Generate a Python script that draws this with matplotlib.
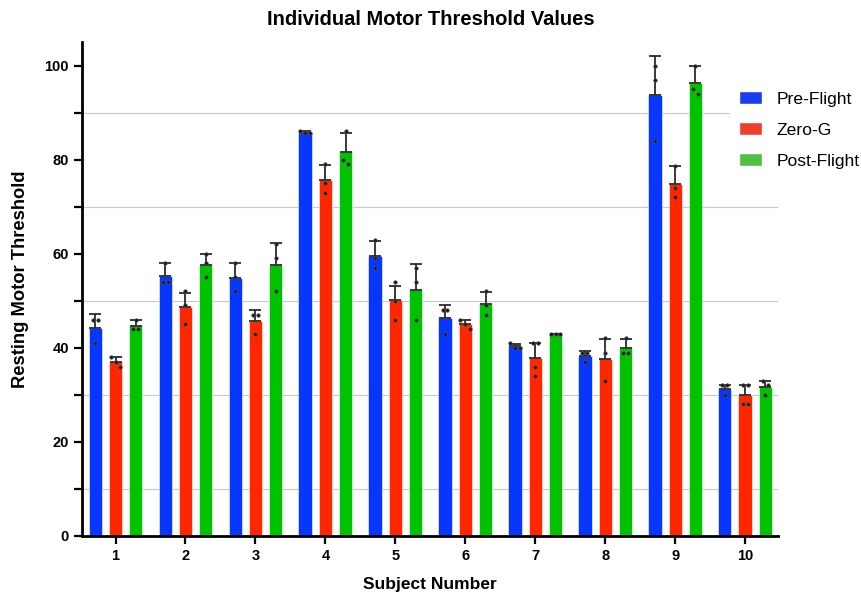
import numpy as np
import matplotlib.pyplot as plt
from matplotlib.patches import Patch

plt.rcParams['font.family'] = ['Liberation Sans', 'DejaVu Sans']

subjects = ["1", "2", "3", "4", "5", "6", "7", "8", "9", "10"]
conditions = ["Pre-Flight", "Zero-G", "Post-Flight"]

# bar heights (mean)
pre_mean = [44.3, 55.3, 54.9, 85.6, 59.6, 46.3, 40.3, 38.3, 93.7, 31.2]
zero_mean = [36.9, 48.7, 45.6, 75.7, 50.1, 45.0, 37.9, 37.6, 74.9, 30.0]
post_mean = [44.6, 57.6, 57.5, 81.6, 52.3, 49.3, 43.0, 39.9, 96.3, 31.6]

# top of the error bars (mean + SD)
pre_top = [47.2, 58.0, 58.0, 86.0, 62.8, 49.2, 40.9, 39.3, 102.1, 32.2]
zero_top = [38.0, 51.7, 48.0, 78.9, 53.1, 45.9, 41.0, 41.8, 78.7, 32.0]
post_top = [45.9, 60.0, 62.2, 85.7, 57.9, 51.9, 43.0, 41.8, 99.9, 33.0]

# individual measurements
pre_pts = [[46, 46, 41], [58, 54, 54], [58, 55, 52], [86, 85.6, 85.6],
           [63, 59, 57], [48, 48, 43], [41, 40, 40], [39, 39, 37],
           [100, 97, 84], [32, 32, 30]]
zero_pts = [[38, 37, 36], [52, 49, 45], [47, 47, 43], [79, 75, 73],
            [54, 50, 46], [46, 45, 44], [41, 41, 36, 34], [42, 39, 33],
            [78.6, 74, 72], [32, 32, 28, 28]]
post_pts = [[46, 44, 44], [60, 58, 55], [62, 59, 52], [86, 80, 79],
            [57, 54, 46], [52, 49, 47], [43, 43, 43], [42, 39, 39],
            [99.9, 95, 94], [33, 32, 30]]

bar_colors = ["#0636ff", "#ff2600", "#00c200"]
legend_colors = ["#1a3cf0", "#ee3f2b", "#4fbf41"]

fig = plt.figure(figsize=(8.61, 5.96), dpi=100)
ax = fig.add_axes([0.0952, 0.1007, 0.8084, 0.8288])

x = np.arange(1, len(subjects) + 1)
offsets = [-0.29, 0.0, 0.29]
width = 0.19

means = [pre_mean, zero_mean, post_mean]
tops = [pre_top, zero_top, post_top]
points = [pre_pts, zero_pts, post_pts]

for k in range(3):
    xs = x + offsets[k]
    ax.bar(xs, means[k], width=width, color=bar_colors[k],
           edgecolor="white", linewidth=0.4, zorder=2)
    err = np.array(tops[k]) - np.array(means[k])
    ax.errorbar(xs, means[k], yerr=[np.zeros_like(err), err], fmt="none",
                ecolor="#2a2a2a", elinewidth=1.3, capsize=4, capthick=1.3,
                zorder=3)
    # scatter the individual values, spread out if they overlap
    for i, pts in enumerate(points[k]):
        pts = sorted(pts, reverse=True)
        groups = []
        for p in pts:
            if groups and abs(groups[-1][-1] - p) < 1.2:
                groups[-1].append(p)
            else:
                groups.append([p])
        for g in groups:
            n = len(g)
            dx = (np.arange(n) - (n - 1) / 2) * 0.07
            ax.plot(xs[i] + dx, g, "o", ms=2.6, color="#1c1c1c",
                    mec="#555555", mew=0.4, zorder=4)

ax.set_xlim(0.52, 10.47)
ax.set_ylim(0, 105)
ax.set_xticks(x)
ax.set_xticklabels(subjects, fontsize=10.5, fontweight="bold")
ax.set_yticks(np.arange(0, 101, 20))
ax.set_yticks(np.arange(10, 100, 20), minor=True)
ax.tick_params(axis="y", which="major", labelsize=10.5, width=1.6, length=6)
ax.tick_params(axis="y", which="minor", width=1.6, length=6)
ax.tick_params(axis="x", width=1.6, length=6)
for t in ax.get_yticklabels():
    t.set_fontweight("bold")
ax.grid(axis="y", which="minor", color="#c8c8c8", linewidth=0.8, zorder=0)
ax.set_axisbelow(True)

for s in ["top", "right"]:
    ax.spines[s].set_visible(False)
for s in ["left", "bottom"]:
    ax.spines[s].set_linewidth(2)

ax.set_xlabel("Subject Number", fontsize=12.5, fontweight="bold", labelpad=10)
ax.set_ylabel("Resting Motor Threshold", fontsize=13.2, fontweight="bold")
ax.yaxis.set_label_coords(-0.076, 0.52)
fig.suptitle("Individual Motor Threshold Values", fontsize=14.5,
             fontweight="bold", x=0.5, y=0.983)

handles = [Patch(facecolor=c, edgecolor="white") for c in legend_colors]
leg = ax.legend(handles, conditions, loc="upper left",
                bbox_to_anchor=(0.931, 0.918), frameon=True, fontsize=12.6,
                handlelength=1.35, handleheight=0.7, handletextpad=0.8,
                labelspacing=0.9, borderpad=0.5, borderaxespad=0)
leg.get_frame().set_facecolor("white")
leg.get_frame().set_edgecolor("white")
leg.get_frame().set_alpha(1)

fig.savefig("out.png", dpi=100)
